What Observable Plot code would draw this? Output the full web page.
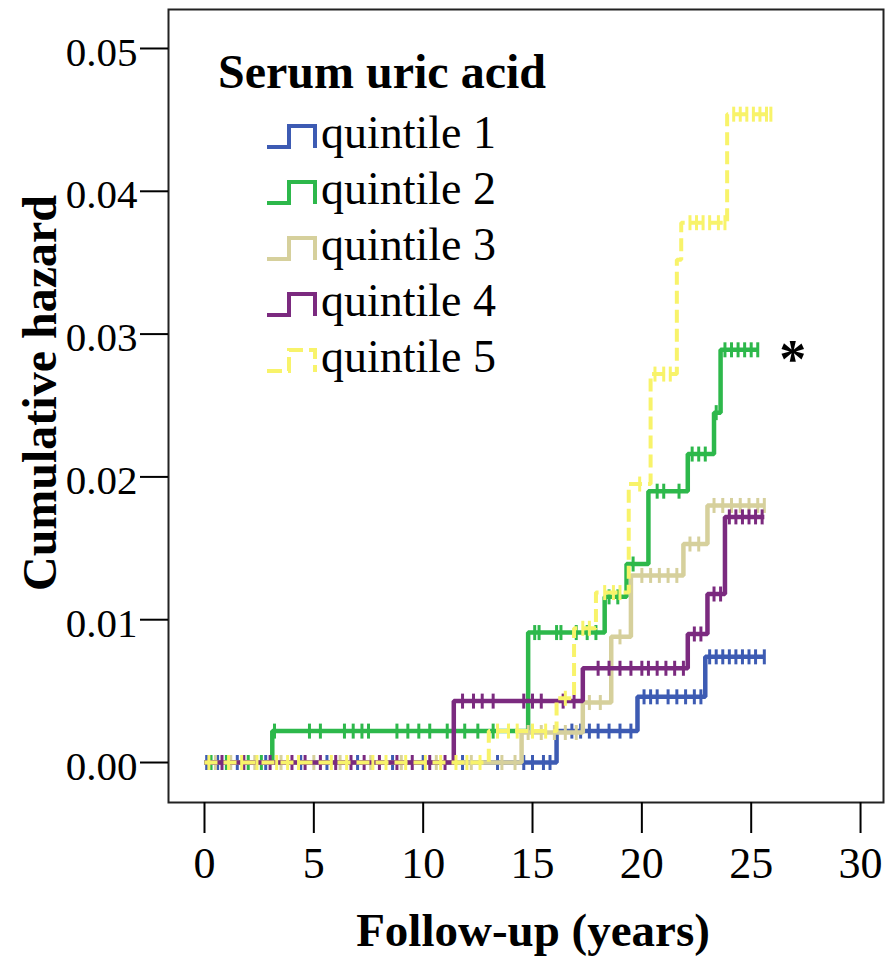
<!DOCTYPE html>
<html>
<head>
<meta charset="utf-8">
<script src="https://cdn.jsdelivr.net/npm/d3@7"></script>
<script src="https://cdn.jsdelivr.net/npm/@observablehq/plot@0.6"></script>
<style>
  body { margin: 0; background: #fff; }
  #wrap { position: relative; width: 886px; height: 964px; }
  #legend { position: absolute; left: 0; top: 0; pointer-events: none; }
</style>
</head>
<body>
<div id="wrap"></div>
<script>
// ---------- data ----------
const seriesNames = ["quintile 1", "quintile 2", "quintile 3", "quintile 4", "quintile 5"];
const seriesColors = ["#3d5bb3", "#2db84b", "#d6d09c", "#7b2a7f", "#f8f36a"];
const legendTitle = "Serum uric acid";
const xLabel = "Follow-up (years)";
const yLabel = "Cumulative hazard";
const xTicks = [0, 5, 10, 15, 20, 25, 30];
const yTicks = [0, 0.01, 0.02, 0.03, 0.04, 0.05];

const q1Time   = [0, 16.1, 19.8, 22.9, 25.6];
const q1Hazard = [0, 0.0022, 0.0046, 0.0074, 0.0074];
const q1Censor = [0.1, 0.6, 1.5, 2.8, 4.4, 5.6, 7.0, 8.6, 10.0, 11.8, 13.4, 14.6, 15.0, 15.5, 15.8,
                  16.8, 17.2, 17.6, 18.0, 18.5, 19.0, 19.5,
                  20.1, 20.4, 20.7, 21.2, 21.6, 22.0, 22.4, 22.7,
                  23.1, 23.4, 23.7, 24.0, 24.3, 24.6, 24.9, 25.2, 25.6];

const q2Time   = [0, 3.1, 14.8, 18.3, 19.3, 20.3, 22.1, 23.3, 23.6, 25.3];
const q2Hazard = [0, 0.0022, 0.0091, 0.0116, 0.0139, 0.0190, 0.0216, 0.0245, 0.0289, 0.0289];
const q2Censor = [0.3, 1.0, 2.0, 2.6,
                  3.2, 4.8, 5.3, 6.4, 6.8, 7.2, 7.5, 8.8, 9.3, 9.8, 10.3, 11.1, 11.4, 11.9, 12.5, 13.2,
                  15.1, 15.3, 16.1, 16.3, 17.0, 17.5, 17.9,
                  18.5, 18.9, 19.6, 20.7, 21.0, 21.7, 22.3, 22.6, 22.9, 23.4,
                  23.8, 24.1, 24.4, 24.7, 25.0, 25.3];

const q3Time   = [0, 14.5, 17.3, 18.6, 19.5, 21.9, 23.0, 25.6];
const q3Hazard = [0, 0.0021, 0.0042, 0.0088, 0.0131, 0.0153, 0.0180, 0.0180];
const q3Censor = [0.5, 1.2, 2.3, 3.5, 5.0, 6.2, 7.6, 9.0, 10.6, 12.2, 13.6, 14.2,
                  14.8, 15.4, 16.0, 16.5, 17.0, 17.6, 18.1, 19.0,
                  20.0, 20.4, 20.8, 21.2, 21.6, 22.2, 22.6,
                  23.3, 23.7, 24.1, 24.5, 24.9, 25.3, 25.6];

const q4Time   = [0, 11.4, 17.3, 22.1, 23.0, 23.8, 25.6];
const q4Hazard = [0, 0.0043, 0.0066, 0.0090, 0.0118, 0.0172, 0.0172];
const q4Censor = [0.8, 1.8, 3.0, 4.0, 4.6, 5.3, 6.0, 6.7, 7.3, 8.0, 8.8, 9.5, 10.3, 11.0,
                  11.8, 12.3, 12.7, 13.2, 14.6, 15.0, 15.4, 16.4, 16.9,
                  18.0, 18.5, 19.0, 19.5, 20.0, 20.3, 20.7, 21.1, 21.5, 21.9,
                  22.4, 22.7, 23.3, 23.6, 24.0, 24.3, 24.6, 24.9, 25.2, 25.5];

const q5Time   = [0, 13.0, 16.1, 16.9, 17.9, 19.4, 20.4, 21.6, 21.8, 23.9, 25.9];
const q5Hazard = [0, 0.0022, 0.0045, 0.0094, 0.0119, 0.0195, 0.0272, 0.0352, 0.0378, 0.0454, 0.0454];
const q5Censor = [0.2, 1.1, 1.7, 2.4, 3.3, 3.8, 4.3, 5.8, 6.5, 7.7, 8.3, 9.2, 10.1, 10.8, 11.5, 12.0, 12.6,
                  13.4, 13.9, 14.3, 15.0, 15.6, 16.5, 17.3, 17.6, 18.3, 18.7, 19.0, 19.9,
                  20.6, 21.0, 21.3, 22.2, 22.5, 22.8, 23.1, 23.5, 23.8,
                  24.2, 24.5, 24.8, 25.1, 25.4, 25.7, 25.9];

// ---------- tables ----------
const times = [q1Time, q2Time, q3Time, q4Time, q5Time];
const hazards = [q1Hazard, q2Hazard, q3Hazard, q4Hazard, q5Hazard];
const censors = [q1Censor, q2Censor, q3Censor, q4Censor, q5Censor];

const steps = [];
const marks = [];
seriesNames.forEach((s, k) => {
  times[k].forEach((t, i) => steps.push({series: s, t, h: hazards[k][i]}));
  censors[k].forEach(t => {
    let h = 0;
    times[k].forEach((tt, i) => { if (tt <= t) h = hazards[k][i]; });
    marks.push({series: s, t, h});
  });
});
const lastQ2 = [{t: q2Time[q2Time.length - 1], h: q2Hazard[q2Hazard.length - 1]}];

const vbar = {
  draw(context, size) {
    const r = Math.sqrt(size / Math.PI);
    context.moveTo(0, -r);
    context.lineTo(0, r);
  }
};

const serif = "'Liberation Serif', 'DejaVu Serif', serif";

const lineMarks = [];
seriesNames.forEach((s, k) => {
  const dashed = k === 4;
  lineMarks.push(Plot.line(steps.filter(d => d.series === s), {
    x: "t", y: "h", stroke: "series", curve: "step-after",
    strokeWidth: dashed ? 4 : 4.5, strokeDasharray: dashed ? "13,6" : null,
    strokeLinejoin: "miter", strokeLinecap: "butt"
  }));
  lineMarks.push(Plot.dot(marks.filter(d => d.series === s), {
    x: "t", y: "h", stroke: "series", symbol: vbar, r: 7.5, strokeWidth: 3, fill: "none"
  }));
});

const plot = Plot.plot({
  width: 886,
  height: 964,
  marginLeft: 168,
  marginRight: 3,
  marginTop: 9,
  marginBottom: 162,
  style: {fontFamily: serif, background: "#fff", color: "#000", overflow: "visible"},
  x: {domain: [-1.646, 31.05]},
  y: {domain: [-0.0028, 0.05273]},
  color: {domain: seriesNames, range: seriesColors},
  marks: [
    ...lineMarks,
    Plot.frame({stroke: "#222", strokeWidth: 2}),
    Plot.axisY({ticks: yTicks, tickSize: 28, text: null, strokeWidth: 2, label: null}),
    Plot.axisY({ticks: yTicks, tickFormat: d3.format(".2f"), tickSize: 0, tickPadding: 31,
                fontSize: 41, dy: 4, label: null, fontFamily: serif}),
    Plot.axisX({ticks: xTicks, tickSize: 31, tickPadding: 13, fontSize: 44,
                strokeWidth: 2, label: null, fontFamily: serif}),
    Plot.text([xLabel], {text: d => d, frameAnchor: "bottom", lineAnchor: "bottom",
                         dx: 7, dy: 143, fontSize: 47, fontWeight: "bold", fontFamily: serif, fill: "#000"}),
    Plot.text([yLabel], {text: d => d, frameAnchor: "left", lineAnchor: "bottom", textAnchor: "middle",
                         rotate: -90, dx: -113, dy: -13, fontSize: 48, fontWeight: "bold",
                         fontFamily: serif, fill: "#000"}),
    Plot.text(lastQ2, {x: "t", y: "h", text: () => "*", dx: 35, dy: 10, fontSize: 54,
                       fontWeight: "bold", fontFamily: serif, fill: "#000"})
  ]
});

const wrap = document.getElementById("wrap");
wrap.appendChild(plot);

// ---------- legend (overlay, inside the plot frame) ----------
const lg = d3.select(wrap).append("svg")
  .attr("id", "legend").attr("width", 886).attr("height", 964)
  .style("font-family", serif);
lg.append("text").attr("x", 218).attr("y", 88)
  .attr("font-size", 48).attr("font-weight", "bold").attr("fill", "#000").text(legendTitle);
seriesNames.forEach((s, k) => {
  const b = 148 + k * 56;
  lg.append("path")
    .attr("d", `M267,${b - 1}H289V${b - 22}H315V${b}`)
    .attr("fill", "none").attr("stroke", seriesColors[k]).attr("stroke-width", 4)
    .attr("stroke-linejoin", "miter")
    .attr("stroke-dasharray", k === 4 ? "15,6" : null);
  lg.append("text").attr("x", 321).attr("y", b)
    .attr("font-size", 46).attr("fill", "#000").text(s);
});
</script>
</body>
</html>
